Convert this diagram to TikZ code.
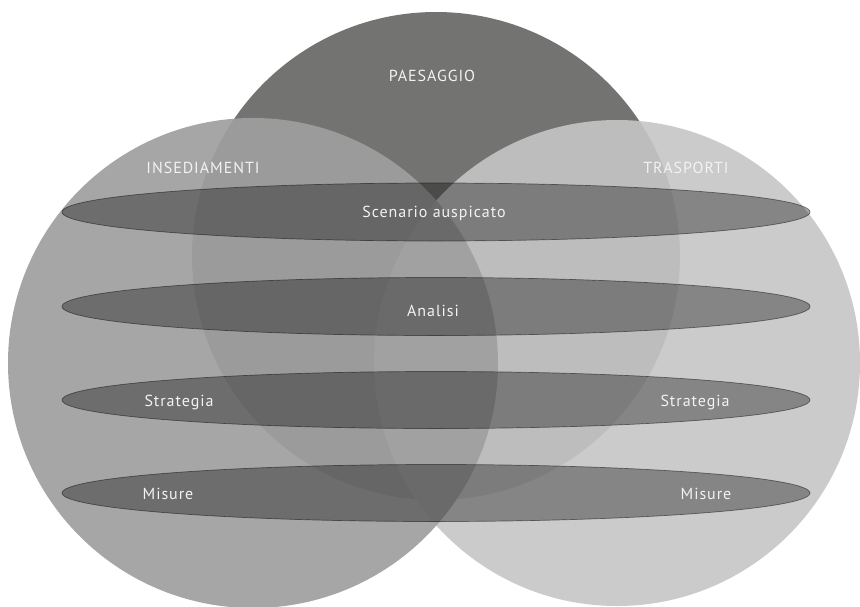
\documentclass[tikz,border=0pt]{standalone}
\usepackage{fontspec}
\newfontfamily\labfont[LetterSpace=6]{PT Sans}
\definecolor{topc}{HTML}{737371}
\definecolor{leftc}{HTML}{9F9F9F}
\definecolor{rightc}{HTML}{C5C6C5}
\definecolor{ellc}{HTML}{A8A8A8}
\definecolor{ellline}{HTML}{8A8A8A}
\definecolor{txtc}{HTML}{F2F2F2}
\begin{document}
\begin{tikzpicture}[x=1pt,y=-1pt,
  lbl/.style={text=txtc,font=\labfont\fontsize{16}{19}\selectfont,inner sep=0pt,anchor=base},
  band/.style={fill=ellc,draw=ellline,line width=0.7pt}]
\useasboundingbox (0,0) rectangle (860,606);
\fill[white] (0,0) rectangle (860,606);
% three circles
\fill[topc] (436,256) circle[radius=244];
\fill[rightc,fill opacity=0.9] (617,363) circle[radius=243];
\fill[leftc,fill opacity=0.92] (253,363) circle[radius=245];
% four bands
\begin{scope}[blend mode=multiply]
  \filldraw[band] (436,212) ellipse[x radius=374,y radius=29];
  \filldraw[band] (436,306.5) ellipse[x radius=374,y radius=29];
  \filldraw[band] (436,400) ellipse[x radius=374,y radius=28.5];
  \filldraw[band] (436,493) ellipse[x radius=374,y radius=28.5];
\end{scope}
% labels
\node[lbl] (pae) at (432,81.5) {PAESAGGIO};
\node[lbl] (ins) at (203,173) {INSEDIAMENTI};
\node[lbl] (tra) at (686,173) {TRASPORTI};
\node[lbl] (sce) at (434,217.5) {Scenario auspicato};
\node[lbl] (ana) at (433,316) {Analisi};
\node[lbl] (strl) at (179,406) {Strategia};
\node[lbl] (strr) at (695,406) {Strategia};
\node[lbl] (misl) at (168,499) {Misure};
\node[lbl] (misr) at (706,499) {Misure};
\end{tikzpicture}
\end{document}
